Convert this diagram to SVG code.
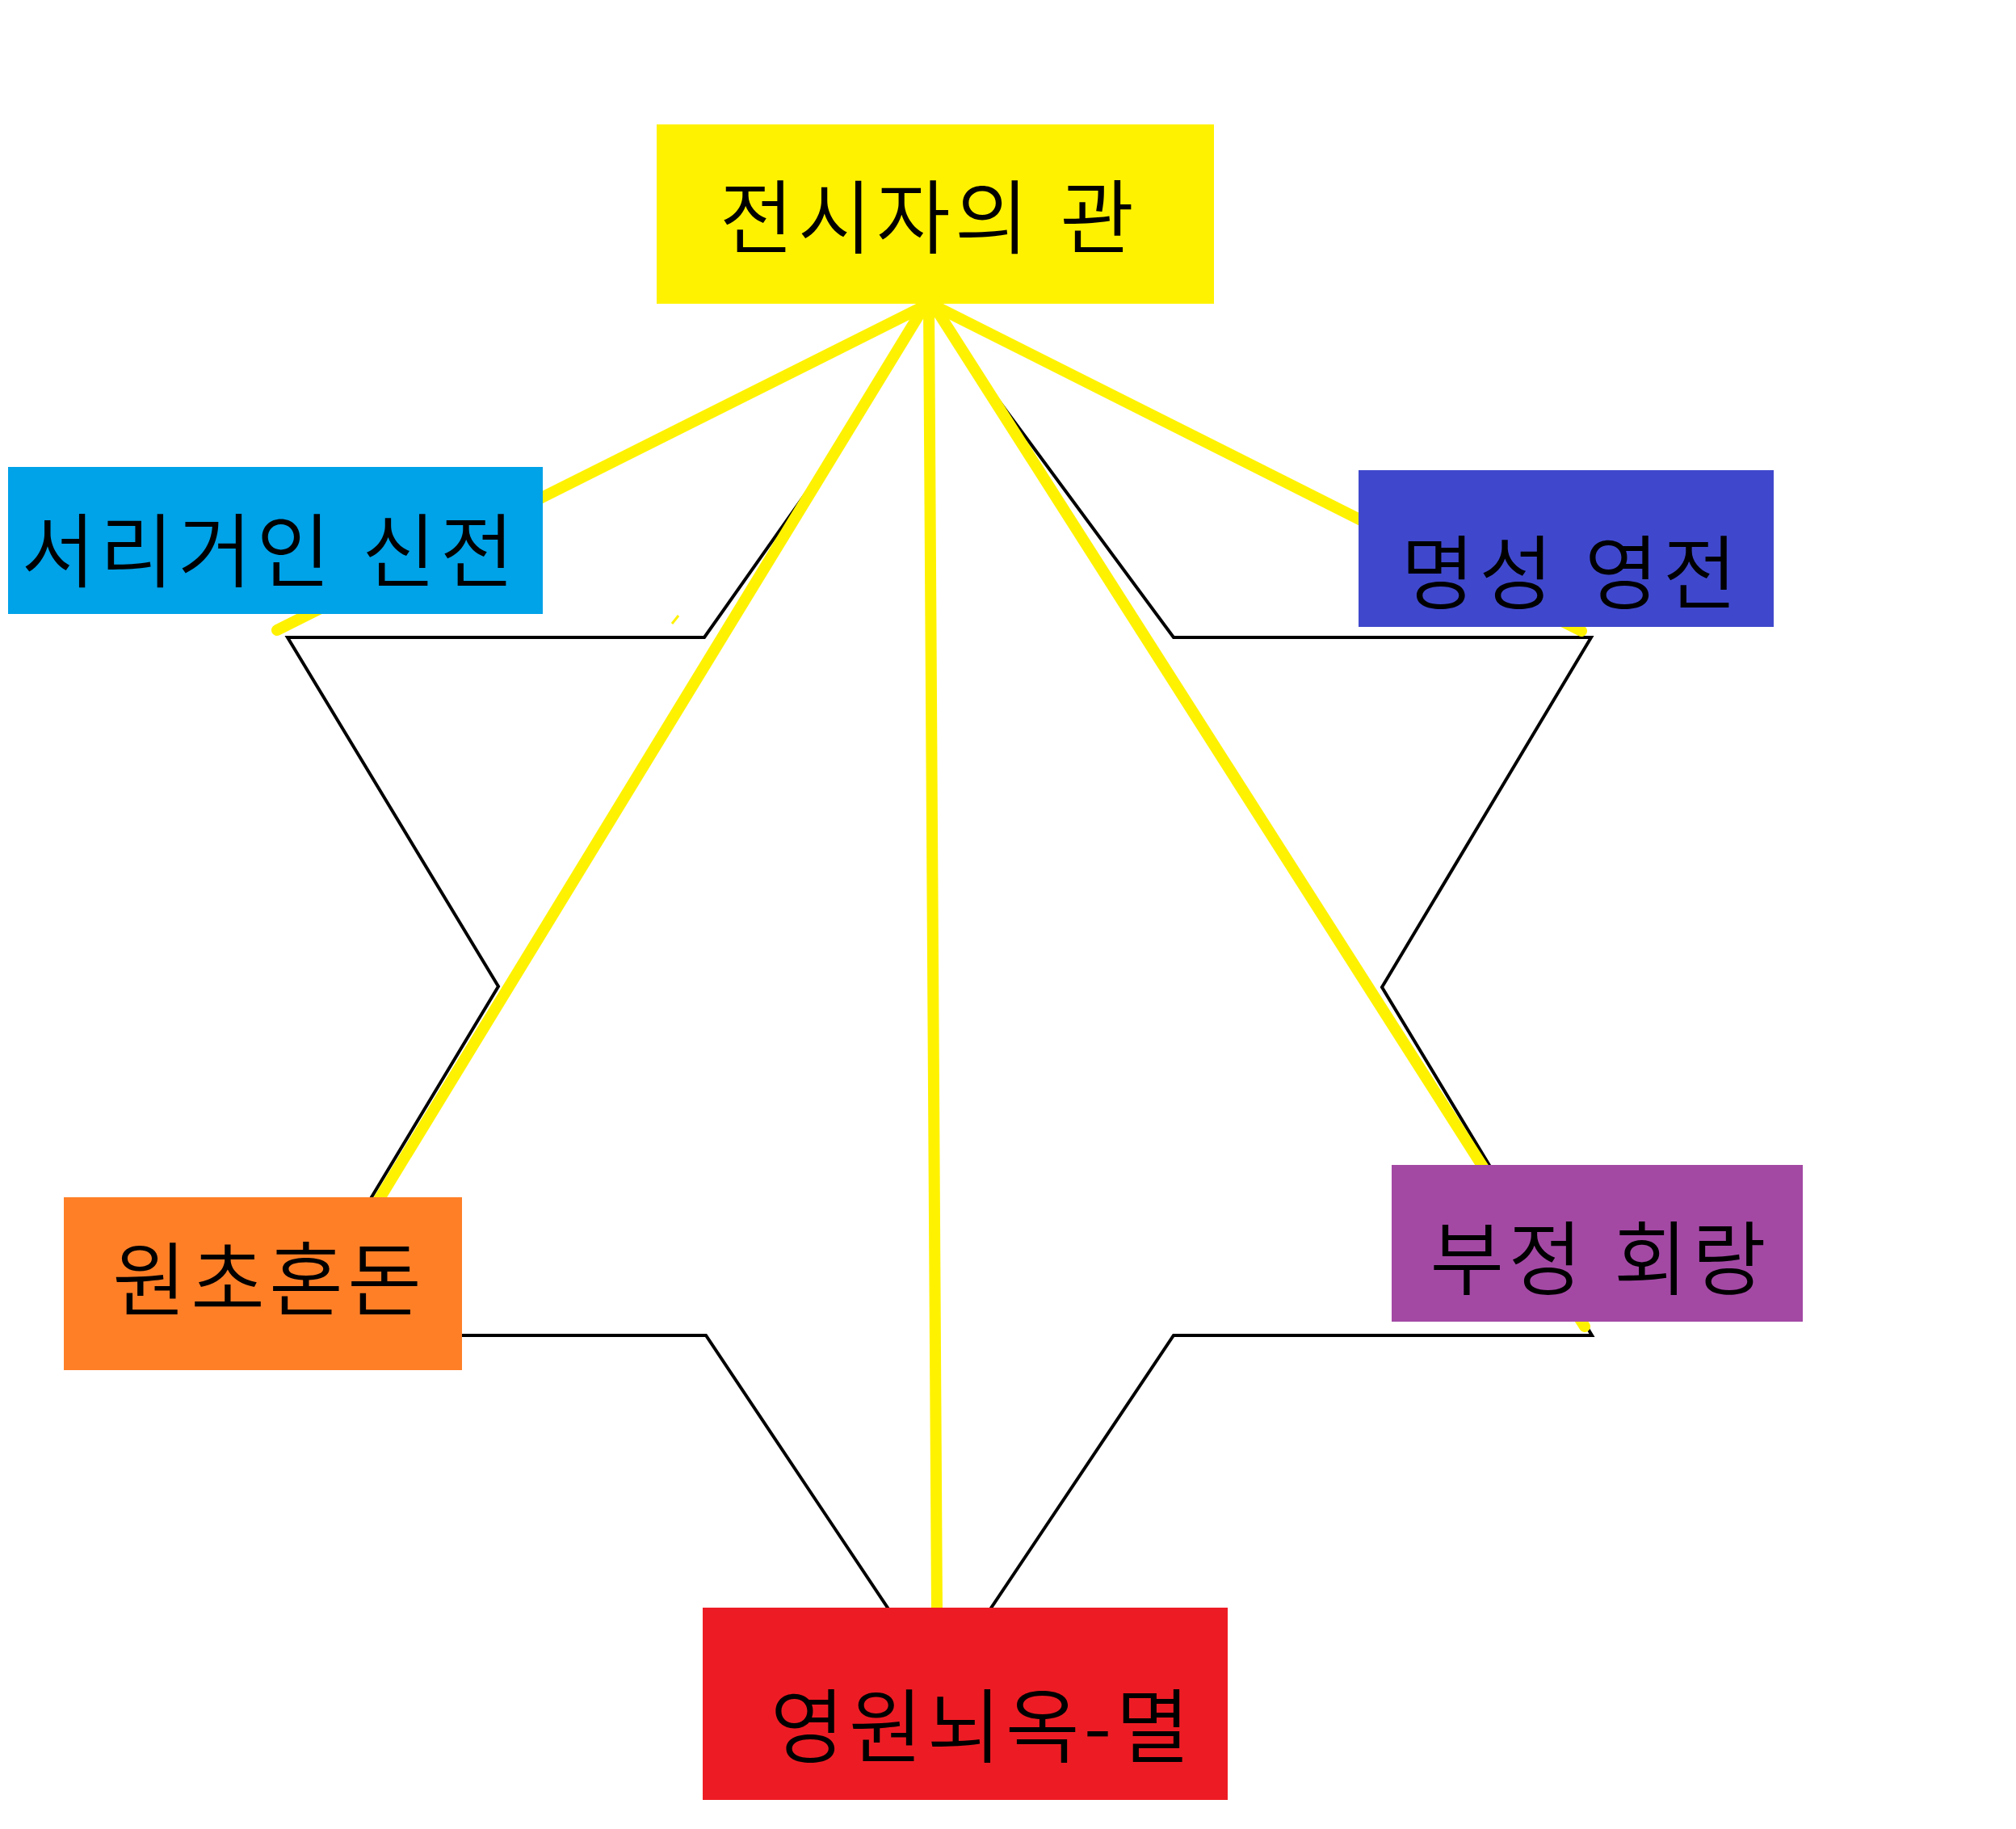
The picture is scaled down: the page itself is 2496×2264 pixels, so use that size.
<svg xmlns="http://www.w3.org/2000/svg" width="2496" height="2264" viewBox="0 0 2496 2264">
  <style>
    .star { fill: none; stroke: #000000; stroke-width: 4; stroke-linejoin: miter; }
    .conn { stroke: #FFF200; stroke-width: 14; stroke-linecap: round; fill: none; }
    .label { font-family: "Noto Sans CJK KR", "Noto Sans", sans-serif; font-size: 100px; font-weight: 350; fill: #000000; text-anchor: middle; letter-spacing: 5px; word-spacing: 6px; }
  </style>
  <rect x="0" y="0" width="2496" height="2264" fill="#FFFFFF"/>
  <g id="star">
    <polygon class="star" points="1148,376 1453,789 1970,789 1711,1222 1971,1653 1453,1653 1163,2086 874,1653 357,1653 617,1221 356,789 872,789 1013,589"/>
  </g>
  <g id="connectors">
    <line class="conn" x1="1146" y1="378" x2="343" y2="780"/>
    <line class="conn" x1="1145" y1="378" x2="466" y2="1490"/>
    <line class="conn" x1="1150" y1="378" x2="1160" y2="1995"/>
    <line class="conn" x1="1156" y1="378" x2="1962" y2="1642"/>
    <line class="conn" x1="1156" y1="378" x2="1958" y2="781"/>
    <line x1="832" y1="772" x2="840" y2="762" stroke="#FFF200" stroke-width="3"/>
  </g>
  <g id="node-top">
    <rect x="813" y="154" width="690" height="222" fill="#FFF200"/>
    <text class="label" x="1150" y="306">전시자의 관</text>
  </g>
  <g id="node-blue">
    <rect x="10" y="578" width="662" height="182" fill="#00A2E8"/>
    <text class="label" x="334" y="719">서리거인 신전</text>
  </g>
  <g id="node-indigo">
    <rect x="1682" y="582" width="514" height="194" fill="#3F48CC"/>
    <text class="label" x="1945" y="746">명성 영전</text>
  </g>
  <g id="node-orange">
    <rect x="79" y="1482" width="493" height="214" fill="#FF7F27"/>
    <text class="label" x="333" y="1621">원초혼돈</text>
  </g>
  <g id="node-purple">
    <rect x="1723" y="1442" width="509" height="194" fill="#A349A4"/>
    <text class="label" x="1981" y="1595">부정 회랑</text>
  </g>
  <g id="node-red">
    <rect x="870" y="1990" width="650" height="238" fill="#ED1C24"/>
    <text class="label" x="1216" y="2174">영원뇌옥-멸</text>
  </g>
</svg>
